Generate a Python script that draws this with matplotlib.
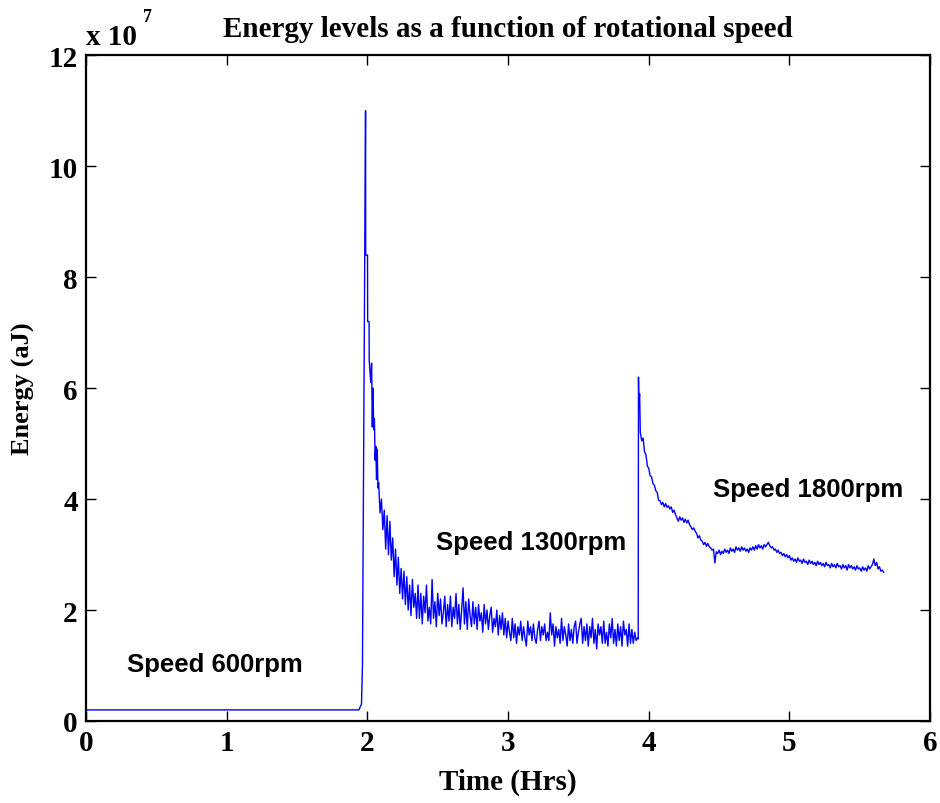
import numpy as np
import matplotlib
matplotlib.use("Agg")
import matplotlib.pyplot as plt

# energy values in units of 1e7 aJ, time in hours

# speed 600 rpm: flat baseline then the jump
t_start = [0.0, 1.94, 1.95, 1.958, 1.965, 1.975, 1.987, 1.988, 2.001, 2.002,
           2.012, 2.013, 2.024, 2.03, 2.035, 2.04, 2.045, 2.05, 2.055, 2.06,
           2.065, 2.07, 2.075]
e_start = [0.2, 0.2, 0.26, 0.3, 1.0, 5.4, 11.0, 8.4, 8.4, 7.2,
           7.2, 6.5, 6.1, 6.45, 5.3, 6.0, 5.25, 5.45, 4.7, 4.95,
           4.35, 4.9, 4.2]

# speed 1300 rpm: noisy decay, sampled every 0.01 h from 2.08 h
e_1300 = [
    4.30, 3.75, 4.00, 3.45, 3.80, 3.10, 3.70, 3.00, 3.60, 2.90,
    3.30, 2.60, 3.10, 2.45, 2.95, 2.30, 2.75, 2.20, 2.70, 2.10,
    2.60, 2.00, 2.45, 1.90, 2.55, 2.05, 2.30, 1.85, 2.45, 1.85,
    2.30, 1.75, 2.25, 1.95, 2.45, 1.80, 2.05, 1.75, 2.55, 1.85,
    2.15, 1.70, 2.30, 1.90, 2.20, 1.75, 1.95, 2.25, 1.70, 2.10,
    1.80, 2.25, 1.70, 2.05, 1.85, 2.30, 1.75, 2.10, 1.65, 2.00,
    2.40, 1.75, 2.15, 1.65, 2.20, 1.90, 1.70, 2.15, 1.75, 2.05,
    1.65, 2.10, 1.80, 1.95, 1.60, 2.10, 1.75, 2.00, 1.65, 1.90,
    2.05, 1.60, 1.85, 1.70, 2.00, 1.55, 1.90, 1.65, 1.95, 1.55,
    1.85, 1.50, 1.80, 1.60, 1.45, 1.85, 1.50, 1.75, 1.40, 1.70,
    1.55, 1.80, 1.45, 1.70, 1.50, 1.35, 1.80, 1.55, 1.70, 1.45,
    1.75, 1.50, 1.40, 1.65, 1.80, 1.45, 1.70, 1.55, 1.75, 1.45,
    1.60, 1.45, 1.95, 1.55, 1.75, 1.35, 1.70, 1.50, 1.65, 1.40,
    1.85, 1.45, 1.70, 1.55, 1.35, 1.75, 1.45, 1.65, 1.40, 1.70,
    1.80, 1.40, 1.60, 1.75, 1.85, 1.40, 1.70, 1.45, 1.75, 1.35,
    1.70, 1.50, 1.85, 1.40, 1.65, 1.30, 1.75, 1.55, 1.70, 1.40,
    1.80, 1.40, 1.60, 1.35, 1.75, 1.50, 1.85, 1.40, 1.65, 1.35,
    1.75, 1.45, 1.70, 1.35, 1.80, 1.55, 1.65, 1.35, 1.75, 1.40,
    1.65, 1.40, 1.60, 1.45, 1.50,
]
t_1300 = 2.08 + 0.01 * np.arange(len(e_1300))

# step to 1800 rpm
t_jump = [3.925, 3.927, 3.93, 3.935]
e_jump = [1.48, 6.2, 5.7, 5.9]

# speed 1800 rpm, every 0.01 h from 3.94 h
e_1800 = [
    5.20, 5.05, 5.10, 4.85, 4.80, 4.60, 4.55, 4.42, 4.40, 4.28,
    4.25, 4.15, 4.12, 3.98, 3.97, 3.90, 3.94, 3.86, 3.92, 3.85,
    3.88, 3.82, 3.86, 3.76, 3.80, 3.72, 3.66, 3.60, 3.68, 3.62,
    3.66, 3.58, 3.64, 3.57, 3.62, 3.54, 3.50, 3.45, 3.48, 3.42,
    3.38, 3.30, 3.34, 3.26, 3.24, 3.18, 3.22, 3.15, 3.20, 3.14,
    3.12, 3.08, 3.10, 2.85, 3.05, 3.02, 3.08, 3.00, 3.06, 3.02,
    3.10, 3.04, 3.08, 3.02, 3.12, 3.06, 3.10, 3.04, 3.14, 3.08,
    3.12, 3.06, 3.14, 3.08, 3.12, 3.06, 3.10, 3.04, 3.12, 3.08,
    3.14, 3.08, 3.16, 3.10, 3.18, 3.12, 3.16, 3.10, 3.18, 3.14,
    3.18, 3.22, 3.16, 3.12, 3.14, 3.08, 3.10, 3.04, 3.08, 3.02,
    3.04, 2.98, 3.02, 2.96, 3.00, 2.94, 2.98, 2.90, 2.94, 2.88,
    2.92, 2.86, 2.94, 2.88, 2.90, 2.84, 2.92, 2.86, 2.88, 2.82,
    2.90, 2.84, 2.88, 2.82, 2.86, 2.80, 2.88, 2.82, 2.86, 2.80,
    2.84, 2.78, 2.86, 2.80, 2.82, 2.76, 2.84, 2.78, 2.82, 2.76,
    2.84, 2.78, 2.80, 2.74, 2.82, 2.76, 2.80, 2.72, 2.82, 2.76,
    2.80, 2.74, 2.78, 2.72, 2.80, 2.74, 2.76, 2.70, 2.78, 2.72,
    2.76, 2.70, 2.80, 2.74, 2.78, 2.82, 2.92, 2.80, 2.86, 2.74,
    2.78, 2.70, 2.72, 2.68,
]
t_1800 = 3.94 + 0.01 * np.arange(len(e_1800))

t = np.concatenate([t_start, t_1300, t_jump, t_1800])
e = np.concatenate([e_start, e_1300, e_jump, e_1800]) * 1e7

serif = "Liberation Serif"
sans = "Liberation Sans"

fig = plt.figure(figsize=(9.4, 8.04), dpi=100)
ax = fig.add_axes([0.0915, 0.102, 0.898, 0.828])

ax.plot(t, e, color=(0, 0, 1), lw=1.0)

ax.set_xlim(0, 6)
ax.set_ylim(0, 12e7)
ax.set_xticks(range(0, 7))
ax.set_yticks(np.arange(0, 13, 2) * 1e7)
ax.set_yticklabels([str(v) for v in range(0, 13, 2)])
ax.tick_params(direction="in", length=7, width=1, top=True, right=True,
               labelsize=21, pad=6)
for lab in ax.get_xticklabels() + ax.get_yticklabels():
    lab.set_fontfamily(serif)
    lab.set_fontweight("bold")
for sp in ax.spines.values():
    sp.set_linewidth(1.6)

ax.set_title("Energy levels as a function of rotational speed",
             fontfamily=serif, fontweight="bold", fontsize=21, pad=14)
ax.set_xlabel("Time (Hrs)", fontfamily=serif, fontweight="bold", fontsize=21,
              labelpad=8)
ax.set_ylabel("Energy (aJ)", fontfamily=serif, fontweight="bold", fontsize=19,
              labelpad=10)

ax.text(0.0, 1.008, "x 10", transform=ax.transAxes, fontfamily=serif,
        fontweight="bold", fontsize=21, va="bottom", ha="left")
ax.text(0.068, 1.045, "7", transform=ax.transAxes, fontfamily=serif,
        fontweight="bold", fontsize=13, va="bottom", ha="left")

ax.text(0.29, 1.03e7, "Speed 600rpm", fontfamily=sans, fontweight="bold",
        fontsize=18.5, va="center", ha="left")
ax.text(2.49, 3.22e7, "Speed 1300rpm", fontfamily=sans, fontweight="bold",
        fontsize=18.5, va="center", ha="left")
ax.text(4.46, 4.18e7, "Speed 1800rpm", fontfamily=sans, fontweight="bold",
        fontsize=18.5, va="center", ha="left")

fig.savefig("out.png", dpi=100)
